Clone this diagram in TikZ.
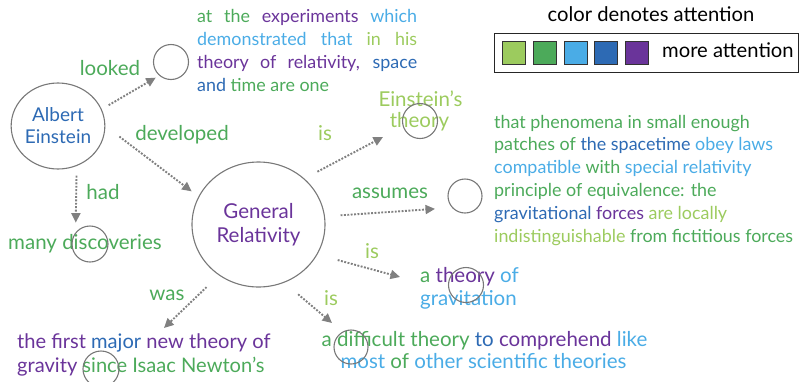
\documentclass[tikz,border=0pt]{standalone}
\usepackage{fontspec}
\setmainfont{Lato}
\usetikzlibrary{arrows.meta,shapes.geometric}
\definecolor{cLG}{RGB}{156,203,94}
\definecolor{cG}{RGB}{76,170,90}
\definecolor{cLB}{RGB}{74,172,230}
\definecolor{cB}{RGB}{45,106,180}
\definecolor{cP}{RGB}{106,52,154}
\definecolor{arrgray}{RGB}{128,128,128}
\definecolor{ringgray}{RGB}{120,120,120}
\newcommand\fsA{\fontsize{20.5}{23}\selectfont}
\newcommand\fsB{\fontsize{17.9}{23}\selectfont}
\newcommand\fsN{\fontsize{19}{23}\selectfont}
\newcommand\fsG{\fontsize{20.5}{24}\selectfont}
\newcommand\fsL{\fontsize{20.2}{23}\selectfont}
\newcommand\LG[1]{\textcolor{cLG}{#1}}
\newcommand\GG[1]{\textcolor{cG}{#1}}
\newcommand\LB[1]{\textcolor{cLB}{#1}}
\newcommand\BB[1]{\textcolor{cB}{#1}}
\newcommand\PP[1]{\textcolor{cP}{#1}}
\begin{document}
\begin{tikzpicture}[x=1pt,y=-1pt,
  txt/.style={inner sep=0pt, font=\fsA},
  blk/.style={inner sep=0pt, font=\fsB, anchor=base west},
  ring/.style={circle, draw=ringgray, line width=1.1pt, inner sep=0pt, minimum size=#1},
  bigring/.style={ellipse, draw=ringgray, line width=1.1pt, inner sep=0pt, align=center},
  arr/.style={draw=arrgray, line width=1.9pt, dash pattern=on 1.9pt off 1.5pt, -{Triangle[length=9.5pt,width=9pt]}},
  swatch/.style={draw=black!80, line width=0.9pt, minimum size=23pt, inner sep=0pt, anchor=north west}]
\useasboundingbox (0,0) rectangle (801,381);

% main nodes
\node[bigring, font=\fsN, minimum width=90pt, minimum height=86pt, text=cB] (albert) at (58,126) {Albert\\[-1pt]Einstein};
\node[bigring, font=\fsG, minimum width=133pt, minimum height=125pt, text=cP] (gr) at (258.5,224.5) {General\\Relativity};

% top text block
\node[blk] (ex1) at (197,22) {\makebox[220pt][s]{\GG{at the} \PP{experiments} \LB{which}}};
\node[blk] (ex2) at (197,45) {\makebox[220pt][s]{\LB{demonstrated that} \LG{in his}}};
\node[blk] (ex3) at (197,68) {\makebox[220pt][s]{\PP{theory of relativity,} \BB{space}}};
\node[blk] (ex4) at (197,91) {\BB{and} \GG{time are one}};

% right text block
\node[blk] (ph1) at (494,128) {\GG{that phenomena in small enough}};
\node[blk] (ph2) at (494,150.8) {\GG{patches of} \BB{the spacetime} \LB{obey laws}};
\node[blk] (ph3) at (494,173.6) {\LB{compatible} \GG{with} \LB{special relativity}};
\node[blk] (ph4) at (494,196.4) {\GG{principle of equivalence: the}};
\node[blk] (ph5) at (494,219.2) {\BB{gravitational} \PP{forces} \LG{are locally}};
\node[blk] (ph6) at (494,242) {\LG{indistinguishable} \GG{from fictitious forces}};

% other targets
\node[txt, anchor=base, text=cLG] (et1) at (420.5,106) {Einstein’s};
\node[txt, anchor=base, text=cLG] (et2) at (419.5,127) {theory};
\node[txt, anchor=base west] (th1) at (420,282) {\GG{a} \PP{theory} \LB{of}};
\node[txt, anchor=base west] (th2) at (420,305) {\LB{gravitation}};
\node[txt, anchor=base] (df1) at (484.5,346) {\GG{a difficult theory} \BB{to} \PP{comprehend} \LB{like}};
\node[txt, anchor=base] (df2) at (483.5,368) {\LB{most} \GG{of} \LB{other scientific theories}};
\node[txt, anchor=base west, font=\fontsize{20.1}{23}\selectfont] (fi1) at (17,348) {\PP{the first} \BB{major} \PP{new theory of}};
\node[txt, anchor=base west, font=\fontsize{20.1}{23}\selectfont] (fi2) at (17,372) {\PP{gravity} \GG{since Isaac Newton’s}};
\node[txt, anchor=base west, text=cG] (disc) at (8,249) {many discoveries};

% small rings
\node[ring=35pt] (lookc) at (171,62) {};
\node[ring=35pt] (ecirc) at (420,121) {};
\node[ring=34pt] (acirc) at (465,196) {};
\node[ring=35pt] (tcirc) at (466,285) {};
\node[ring=34pt] (dcirc) at (351,347) {};
\node[ring=36pt] (discc) at (90,244) {};
\node[ring=36pt] (sincec) at (101,369) {};

% edge labels
\node[txt, anchor=base, text=cG] (lLooked) at (110,75) {looked};
\node[txt, anchor=base, text=cG] (lDev) at (182,140) {developed};
\node[txt, anchor=base, text=cG] (lHad) at (103,199) {had};
\node[txt, anchor=base, text=cG] (lWas) at (167,300) {was};
\node[txt, anchor=base, text=cLG] (lIs1) at (325,140) {is};
\node[txt, anchor=base, text=cG] (lAss) at (390,198) {assumes};
\node[txt, anchor=base, text=cLG] (lIs2) at (372,258) {is};
\node[txt, anchor=base, text=cLG] (lIs3) at (331,305) {is};

% legend
\node[inner sep=0pt, font=\fsL, anchor=base] (ltitle) at (651,21) {color denotes attention};
\node[draw=black!85, line width=1pt, minimum width=304pt, minimum height=39pt, inner sep=0pt, anchor=north west] (legend) at (494,33) {};
\node[swatch, fill=cLG] (s1) at (502,41) {};
\node[swatch, fill=cG]  (s2) at (533,41) {};
\node[swatch, fill=cLB] (s3) at (564,41) {};
\node[swatch, fill=cB]  (s4) at (594,41) {};
\node[swatch, fill=cP]  (s5) at (625,41) {};
\node[inner sep=0pt, font=\fsL, anchor=base west] (lmore) at (662,57) {more attention};

% connectors
\draw[arr, shorten <=8pt, shorten >=4pt] (albert.21) -- (lookc.229);
\draw[arr, shorten <=17.5pt, shorten >=8.5pt] (albert.0) -- (gr.155);
\draw[arr, shorten <=9.6pt, shorten >=9.7pt] (albert.-65.4) -- (discc.141);
\draw[arr, shorten <=17pt] (gr.232.3) -- ([shift={(147,-20)}]fi1.base west);
\draw[arr, shorten <=14.7pt] (gr.45) -- ([shift={(-37,16)}]ecirc.center);
\draw[arr, shorten <=15.6pt, shorten >=17pt] (gr.7.3) -- (acirc.222);
\draw[arr, shorten <=21pt] (gr.-27.3) -- ([shift={(-66,-8)}]tcirc.center);
\draw[arr, shorten <=18pt] (gr.-66) -- ([shift={(-19,-24)}]dcirc.center);
\end{tikzpicture}
\end{document}
